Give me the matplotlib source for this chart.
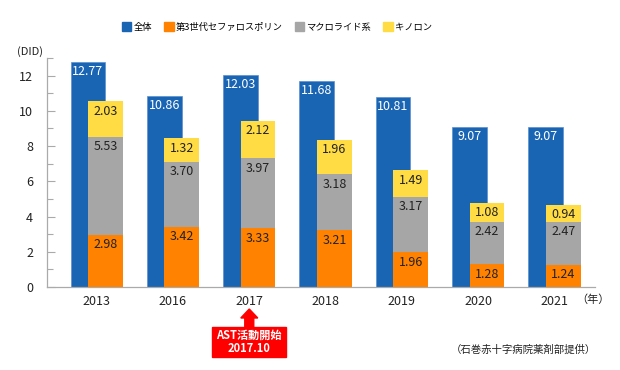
import matplotlib
matplotlib.use("Agg")
import matplotlib.pyplot as plt
import matplotlib.patches as mpatches
from matplotlib.transforms import blended_transform_factory
from matplotlib.ticker import MultipleLocator
import numpy as np

plt.rcParams['font.family'] = ['Noto Sans CJK JP', 'DejaVu Sans']

years = ['2013', '2016', '2017', '2018', '2019', '2020', '2021']
total = [12.77, 10.86, 12.03, 11.68, 10.81, 9.07, 9.07]
ceph3 = [2.98, 3.42, 3.33, 3.21, 1.96, 1.28, 1.24]
macro = [5.53, 3.70, 3.97, 3.18, 3.17, 2.42, 2.47]
quino = [2.03, 1.32, 2.12, 1.96, 1.49, 1.08, 0.94]
series_names = ['全体', '第3世代セファロスポリン', 'マクロライド系', 'キノロン']

C_BLUE = '#1a64b4'
C_ORANGE = '#ff8200'
C_GREY = '#a6a6a6'
C_YELLOW = '#ffdc44'

fig = plt.figure(figsize=(6.2, 3.7), dpi=100)
ax = fig.add_axes([47/620, 1-287/370, (595-47)/620, (287-58)/370])

x = np.arange(len(years))
w = 0.455
off = 0.115

bt = ax.bar(x - off, total, w, color=C_BLUE, edgecolor='#5b8fd0', linewidth=0.5, zorder=2)
b1 = ax.bar(x + off, ceph3, w, color=C_ORANGE, zorder=3)
b2 = ax.bar(x + off, macro, w, bottom=ceph3, color=C_GREY, zorder=3)
bot3 = np.array(ceph3) + np.array(macro)
b3 = ax.bar(x + off, quino, w, bottom=bot3, color=C_YELLOW, zorder=3)

lab_fs = 9
for i in range(len(years)):
    ax.annotate(f"{total[i]:.2f}", (x[i] - off, total[i]), xytext=(0, -7), textcoords='offset points',
                ha='center', va='center', color='white', fontsize=lab_fs, zorder=5)
    tops = [ceph3[i], ceph3[i] + macro[i], bot3[i] + quino[i]]
    vals = [ceph3[i], macro[i], quino[i]]
    for t, v in zip(tops, vals):
        ax.annotate(f"{v:.2f}", (x[i] + off, t), xytext=(0, -7), textcoords='offset points',
                    ha='center', va='center', color='#222222', fontsize=lab_fs, zorder=5)

ax.set_xlim(-0.651, 6.531)
ax.set_ylim(0, 13)
ax.yaxis.set_major_locator(MultipleLocator(2))
ax.yaxis.set_minor_locator(MultipleLocator(1))
ax.set_xticks(x)
ax.set_xticklabels(years)
ax.tick_params(axis='x', length=0, pad=6, labelsize=9, labelcolor='#222222')
ax.tick_params(axis='y', which='major', direction='in', length=6, width=0.8, color='#aaaaaa',
               labelsize=9, labelcolor='#222222', pad=10)
ax.tick_params(axis='y', which='minor', direction='in', length=4, width=0.8, color='#aaaaaa')
for s in ['top', 'right']:
    ax.spines[s].set_visible(False)
for s in ['left', 'bottom']:
    ax.spines[s].set_color('#aaaaaa')
    ax.spines[s].set_linewidth(0.9)

fig.text(30/620, 1-52/370, '(DID)', ha='center', va='center', fontsize=8, color='#222222')
fig.text(593/620, 1-300/370, '（年）', ha='center', va='center', fontsize=8, color='#222222')
fig.text(523/620, 1-350/370, '（石巻赤十字病院薬剤部提供）', ha='center', va='center', fontsize=7.5, color='#222222')

# legend
handles = [mpatches.Patch(color=c) for c in [C_BLUE, C_ORANGE, C_GREY, C_YELLOW]]
fig.legend(handles, series_names, loc='center', bbox_to_anchor=(277/620, 1-27/370), ncol=4,
           frameon=False, fontsize=6.7, handlelength=1.0, handleheight=1.0, handletextpad=0.25,
           columnspacing=1.3)

# AST annotation under 2017
tr = blended_transform_factory(ax.transData, fig.transFigure)
idx = years.index('2017')
arrow = mpatches.FancyArrow(x[idx], 1-327/370, 0, (327-309)/370, width=9/76.3, head_width=17/76.3,
                            head_length=9/370, length_includes_head=True, color='#ff0000',
                            transform=tr, clip_on=False)
ax.add_patch(arrow)
box = mpatches.Rectangle((x[idx] - 37/76.3, 1-357/370), 74/76.3, 30/370, color='#ff0000',
                         transform=tr, clip_on=False)
ax.add_patch(box)
ax.text(x[idx], 1-342/370, 'AST活動開始\n2017.10', transform=tr, ha='center', va='center',
        color='white', fontsize=8, fontweight='bold', linespacing=1.1)

fig.savefig('out.png', dpi=100)
